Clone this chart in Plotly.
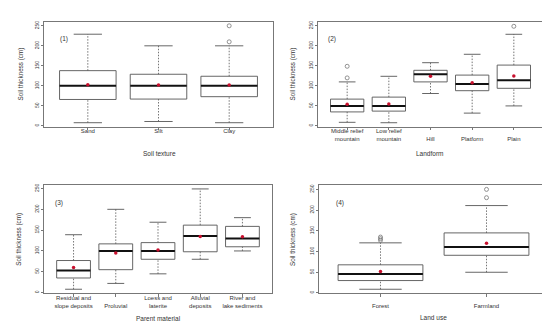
import plotly.graph_objects as go

FONT = "Liberation Sans, Arial, sans-serif"
TXT = "#333333"

# ---------------- data ----------------
p1_labels = ["Sand", "Silt", "Clay"]
p1_low = [8, 11, 8]
p1_q1 = [66, 67, 73]
p1_med = [100, 100, 100]
p1_q3 = [138, 129, 124]
p1_high = [229, 200, 200]
p1_mean = [103, 102, 102]
p1_out = [[], [], [210, 250]]

p2_labels = ["Middle relief<br>mountain", "Low relief<br>mountain", "<br>Hill", "<br>Platform", "<br>Plain"]
p2_low = [9, 8, 81, 32, 50]
p2_q1 = [35, 37, 110, 88, 94]
p2_med = [50, 50, 129, 105, 114]
p2_q3 = [67, 72, 139, 127, 152]
p2_high = [110, 124, 158, 179, 229]
p2_mean = [54, 55, 124, 108, 125]
p2_out = [[120, 149], [], [], [], [249]]

p3_labels = ["Residual and<br>slope deposits", "<br>Proluvial", "Loess and<br>laterite", "Alluvial<br>deposits", "River and<br>lake sediments"]
p3_low = [8, 22, 45, 80, 100]
p3_q1 = [35, 55, 80, 98, 110]
p3_med = [53, 100, 100, 136, 130]
p3_q3 = [77, 117, 120, 162, 159]
p3_high = [139, 200, 169, 249, 180]
p3_mean = [60, 95, 102, 135, 134]
p3_out = [[], [], [], [], []]

p4_labels = ["<br>Forest", "<br>Farmland"]
p4_low = [9, 50]
p4_q1 = [30, 91]
p4_med = [46, 111]
p4_q3 = [68, 145]
p4_high = [121, 211]
p4_mean = [52, 120]
p4_out = [[127, 131, 135], [230, 250]]

panel_tags = ["(1)", "(2)", "(3)", "(4)"]
x_titles = ["Soil texture", "Landform", "Parent material", "Land use"]
y_title = "Soil thickness (cm)"
y_ticks = [0, 50, 100, 150, 200, 250]

# ---------------- layout geometry (pixels in 550x325) ----------------
W, H = 550, 325
frames = [  # left, right, top, bottom
    (36, 265, 12, 117.3),
    (310, 535, 12.5, 117.3),
    (36, 264, 176, 285),
    (311, 540, 176.5, 285),
]
tag_pos = [(50, 28.7), (318.3, 29), (45, 193.7), (325.7, 193.7)]
xtitle_pos = [(151, 144.3), (422, 144.3), (150, 310.3), (425, 309.7)]
ytitle_x = [13.3, 285, 10.7, 285.7]

panels = [
    (p1_labels, p1_low, p1_q1, p1_med, p1_q3, p1_high, p1_mean, p1_out),
    (p2_labels, p2_low, p2_q1, p2_med, p2_q3, p2_high, p2_mean, p2_out),
    (p3_labels, p3_low, p3_q1, p3_med, p3_q3, p3_high, p3_mean, p3_out),
    (p4_labels, p4_low, p4_q1, p4_med, p4_q3, p4_high, p4_mean, p4_out),
]

fig = go.Figure()
layout = dict(
    width=W, height=H, margin=dict(l=0, r=0, t=0, b=0),
    paper_bgcolor="white", plot_bgcolor="white", showlegend=False,
    font=dict(family=FONT, color=TXT, size=6),
)
annotations = []

BOXW = 0.4
CAPW = 0.2
for k, (labels, low, q1, med, q3, high, mean, outs) in enumerate(panels):
    ax = "" if k == 0 else str(k + 1)
    xa, ya = "x" + ax, "y" + ax
    n = len(labels)
    pos = list(range(1, n + 1))

    bx, by, mx, my, wx, wy, cx, cy, ox, oy = [], [], [], [], [], [], [], [], [], []
    for i, p in enumerate(pos):
        bx += [p - BOXW, p + BOXW, p + BOXW, p - BOXW, p - BOXW, None]
        by += [q1[i], q1[i], q3[i], q3[i], q1[i], None]
        mx += [p - BOXW, p + BOXW, None]
        my += [med[i], med[i], None]
        wx += [p, p, None, p, p, None]
        wy += [low[i], q1[i], None, q3[i], high[i], None]
        cx += [p - CAPW, p + CAPW, None, p - CAPW, p + CAPW, None]
        cy += [low[i], low[i], None, high[i], high[i], None]
        for v in outs[i]:
            ox.append(p)
            oy.append(v)

    fig.add_trace(go.Scatter(x=wx, y=wy, mode="lines", xaxis=xa, yaxis=ya,
                             line=dict(color="#666666", width=0.9, dash="1.5px,1.5px"), hoverinfo="skip"))
    fig.add_trace(go.Scatter(x=cx, y=cy, mode="lines", xaxis=xa, yaxis=ya,
                             line=dict(color="#555555", width=0.9), hoverinfo="skip"))
    fig.add_trace(go.Scatter(x=bx, y=by, mode="lines", xaxis=xa, yaxis=ya,
                             line=dict(color="#555555", width=0.9), hoverinfo="skip"))
    fig.add_trace(go.Scatter(x=mx, y=my, mode="lines", xaxis=xa, yaxis=ya,
                             line=dict(color="#111111", width=2), hoverinfo="skip"))
    if ox:
        fig.add_trace(go.Scatter(x=ox, y=oy, mode="markers", xaxis=xa, yaxis=ya,
                                 marker=dict(symbol="circle-open", size=4, color="#777777",
                                             line=dict(width=0.8)), hoverinfo="skip"))
    fig.add_trace(go.Scatter(x=pos, y=mean, mode="markers", xaxis=xa, yaxis=ya,
                             marker=dict(symbol="circle", size=3.5, color="#c8102e"), hoverinfo="skip"))

    allv = low + high + [v for o in outs for v in o]
    vmin, vmax = min(allv), max(allv)
    pad = 0.04 * (vmax - vmin)
    xpad = 0.04 * n

    L, R, T, B = frames[k]
    layout["xaxis" + ax] = dict(
        domain=[L / W, R / W], anchor=ya, range=[0.5 - xpad, n + 0.5 + xpad],
        tickmode="array", tickvals=pos, ticktext=labels,
        showline=True, mirror=True, linecolor="#777777", linewidth=1,
        ticks="outside", ticklen=2.5, tickcolor="#777777", showgrid=False, zeroline=False,
        ticklabelstandoff=-4,
        tickfont=dict(family=FONT, size=6, color=TXT),
    )
    layout["yaxis" + ax] = dict(
        domain=[1 - B / H, 1 - T / H], anchor=xa, range=[vmin - pad, vmax + pad],
        tickmode="array", tickvals=y_ticks, ticktext=[str(t) for t in y_ticks],
        tickangle=-90,
        showline=True, mirror=True, linecolor="#777777", linewidth=1,
        ticks="outside", ticklen=2.5, tickcolor="#777777", showgrid=False, zeroline=False,
        tickfont=dict(family=FONT, size=5, color=TXT),
    )

    tx, ty = tag_pos[k]
    annotations.append(dict(text=panel_tags[k], x=tx / W, y=1 - ty / H, xref="paper", yref="paper",
                            xanchor="left", yanchor="middle", showarrow=False,
                            font=dict(family=FONT, size=6.5, color=TXT)))
    gx, gy = xtitle_pos[k]
    annotations.append(dict(text=x_titles[k], x=gx / W, y=1 - gy / H, xref="paper", yref="paper",
                            xanchor="center", yanchor="middle", showarrow=False,
                            font=dict(family=FONT, size=6.5, color=TXT)))
    annotations.append(dict(text=y_title, x=ytitle_x[k] / W, y=1 - ((T + B) / 2) / H,
                            xref="paper", yref="paper", textangle=-90,
                            xanchor="center", yanchor="middle", showarrow=False,
                            font=dict(family=FONT, size=6.3, color=TXT)))

layout["annotations"] = annotations
fig.update_layout(**layout)
fig.write_html("out.html")
